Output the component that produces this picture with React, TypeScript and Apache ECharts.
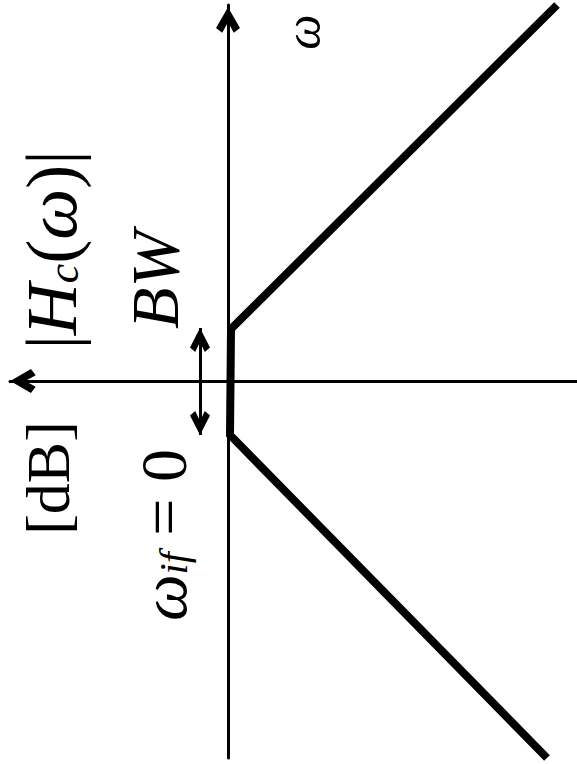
import React, { useEffect, useRef } from "react";
import * as echarts from "echarts";

// Axis ranges (dB axis points left, ω axis points up)
const dbRange = [-349, 218];
const omegaRange = [-377, 376];

// Filter magnitude response |Hc(ω)| corners: [dB, ω]
const responseDb = [-329, -3, -2, -319];
const responseOmega = [376, 52, -54, -377];

// Bandwidth arrow
const bwDb = 28;
const bwOmega = [53, -54];

const FONT = "Liberation Serif";
const CHEVRON = "path://M5,0 L10,8.6 L7.4,10.6 L5,6.2 L2.6,10.6 L0,8.6 Z";

export default function App() {
  const ref = useRef<HTMLDivElement>(null);
  useEffect(() => {
    if (!ref.current) return;
    const chart = echarts.init(ref.current, null, { renderer: "svg" });
    const lineData = responseDb.map((d, i) => [d, responseOmega[i]]);
    chart.setOption({
      animation: false,
      backgroundColor: "#fff",
      grid: { left: 10, right: 0, top: 5, bottom: 6, containLabel: false },
      xAxis: {
        type: "value",
        inverse: true,
        min: dbRange[0],
        max: dbRange[1],
        axisLine: {
          onZero: true,
          symbol: [CHEVRON, "none"],
          symbolSize: [24, 26],
          symbolOffset: [13, 0],
          lineStyle: { color: "#000", width: 3 },
        },
        axisTick: { show: false },
        axisLabel: { show: false },
        splitLine: { show: false },
      },
      yAxis: {
        type: "value",
        min: omegaRange[0],
        max: omegaRange[1],
        axisLine: {
          show: true,
          onZero: true,
          symbol: ["none", CHEVRON],
          symbolSize: [24, 30],
          symbolOffset: [0, -15],
          lineStyle: { color: "#000", width: 3 },
        },
        axisTick: { show: false },
        axisLabel: { show: false },
        splitLine: { show: false },
      },
      series: [
        {
          type: "line",
          data: lineData,
          symbol: "none",
          clip: false,
          lineStyle: { color: "#000", width: 8, join: "miter" },
          markLine: {
            silent: true,
            symbol: [CHEVRON, CHEVRON],
            symbolSize: [20, 24],
            symbolOffset: [[0, 12], [0, 12]],
            label: { show: false },
            lineStyle: { color: "#000", width: 3, type: "solid" },
            data: [[{ coord: [bwDb, bwOmega[0]] }, { coord: [bwDb, bwOmega[1]] }]],
          },
        },
      ],
      graphic: [
        {
          type: "text",
          x: 303,
          y: 32,
          rotation: Math.PI / 2,
          style: {
            text: "ω",
            font: `italic 50px ${FONT}`,
            fill: "#000",
            align: "center",
            verticalAlign: "middle",
          },
        },
        {
          type: "text",
          x: 52,
          y: 250,
          rotation: Math.PI / 2,
          style: {
            text: "|{i|H}{s|c}({i|ω})|",
            font: `72px ${FONT}`,
            fill: "#000",
            align: "center",
            verticalAlign: "middle",
            rich: {
              i: { font: `italic 72px ${FONT}`, fill: "#000" },
              s: { font: `italic 44px ${FONT}`, fill: "#000", padding: [22, 0, 0, 0] },
            },
          },
        },
        {
          type: "text",
          x: 48,
          y: 478,
          rotation: Math.PI / 2,
          style: {
            text: "[dB]",
            font: `62px ${FONT}`,
            fill: "#000",
            align: "center",
            verticalAlign: "middle",
          },
        },
        {
          type: "text",
          x: 155,
          y: 280,
          rotation: Math.PI / 2,
          style: {
            text: "BW",
            font: `italic 68px ${FONT}`,
            fill: "#000",
            align: "center",
            verticalAlign: "middle",
          },
        },
        {
          type: "text",
          x: 163,
          y: 535,
          rotation: Math.PI / 2,
          style: {
            text: "{i|ω}{s|if} = 0",
            font: `66px ${FONT}`,
            fill: "#000",
            align: "center",
            verticalAlign: "middle",
            rich: {
              i: { font: `italic 66px ${FONT}`, fill: "#000" },
              s: { font: `italic 40px ${FONT}`, fill: "#000", padding: [20, 0, 0, 0] },
            },
          },
        },
      ],
    });
    return () => chart.dispose();
  }, []);
  return (
    <div
      ref={ref}
      style={{ position: "fixed", left: 0, top: 0, width: 577, height: 764, background: "#fff" }}
    />
  );
}
